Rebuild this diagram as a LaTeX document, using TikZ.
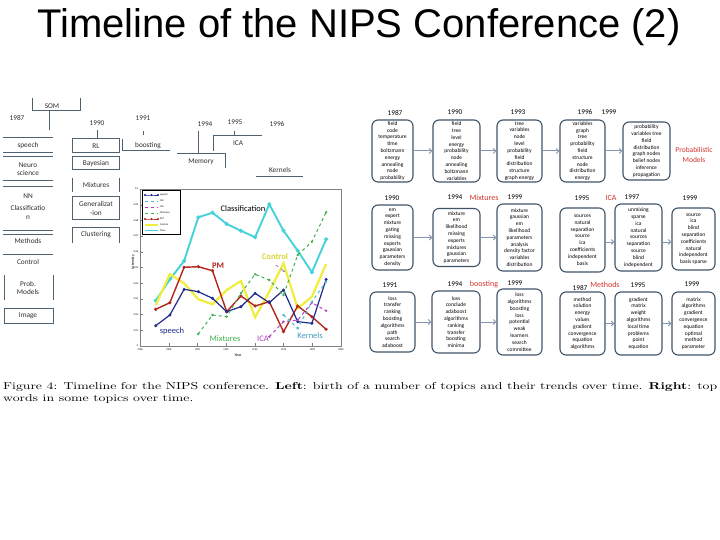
\documentclass[tikz,border=0pt]{standalone}
\usepackage{fontspec}
\usepackage{graphicx}
\newfontfamily\titlefont{Liberation Sans}
\newfontfamily\carlito{Carlito}
\usetikzlibrary{arrows.meta,positioning,calc}

\definecolor{treeline}{HTML}{4F6272}
\definecolor{treetext}{HTML}{2E2E2E}
\definecolor{boxline}{HTML}{3F5368}
\definecolor{arrowline}{HTML}{8395AC}
\definecolor{topicred}{HTML}{D4342C}
\definecolor{speechblue}{HTML}{1F2A8C}
\definecolor{classcyan}{HTML}{45D2D8}
\definecolor{pmred}{HTML}{B3261E}
\definecolor{controlyellow}{HTML}{F0EE3A}
\definecolor{mixgreen}{HTML}{3FB24A}
\definecolor{icamagenta}{HTML}{B040C0}
\definecolor{kernelcyan}{HTML}{4FB8DC}

\newcommand{\treefont}{\carlito\fontsize{7.3}{8.5}\selectfont}
\newcommand{\wordfont}{\carlito\fontsize{5.5}{6.8}\selectfont}
\newcommand{\tinyfont}{\carlito\fontsize{2.6}{3}\selectfont}

\begin{document}
\begin{tikzpicture}[x=1pt,y=-1pt]
    \tikzstyle{tree line} = [draw=treeline, line width=1pt]
    \tikzstyle{tree text} = [font=\treefont, text=treetext, align=center, inner sep=0pt]
    \tikzstyle{word box} = [draw=boxline, line width=1.1pt, rounded corners=6pt, align=center, font=\wordfont, inner sep=1pt]
    \tikzstyle{topic arrow} = [draw=arrowline, line width=1pt, -{Straight Barb[length=2.5pt,width=5pt]}]
    \tikzstyle{year} = [font=\treefont, text=black, inner sep=0pt]
    \tikzstyle{topic} = [font=\carlito\fontsize{8}{8}\selectfont, text=topicred, inner sep=0pt]
    \tikzstyle{curve label} = [font=\carlito\fontsize{8.5}{9}\selectfont, inner sep=0pt]

    \def\rowOneY{151}
    \def\rowTwoY{237.5}
    \def\rowThreeY{322}

    \useasboundingbox (0,0) rectangle (720,540);
    \fill[white] (0,0) rectangle (720,540);

    % title and caption
    \node (title) [anchor=base, font=\titlefont\fontsize{40}{40}\selectfont] at (359,38) {Timeline of the NIPS Conference (2)};
    \node (caption) [anchor=base west, inner sep=0pt] at (3,389.5) {\resizebox{714pt}{\height}{\fontsize{10}{12}\selectfont\begin{tabular}[t]{@{}l@{}}Figure 4: Timeline for the NIPS conference. \textbf{Left}: birth of a number of topics and their trends over time. \textbf{Right}: top\\words in some topics over time.\end{tabular}}};

    % left: birth of topics
    \node (som) [tree text] at (52,106) {SOM};
    \node (y87) [tree text] at (17,118) {1987};
    \node (speech) [tree text] at (28,146) {speech};
    \node (neuro) [tree text] at (28,169) {Neuro\\science};
    \node (nn) [tree text] at (28,196) {NN};
    \node (classif) [tree text] at (28,212.5) {Classificatio\\n};
    \node (methods) [tree text] at (28,241) {Methods};
    \node (control) [tree text] at (28,262) {Control};
    \node (prob) [tree text] at (28,288) {Prob.\\Models};
    \node (image) [tree text] at (28,316) {Image};

    \node (y90) [tree text] at (97,123) {1990};
    \node (rl) [tree text] at (96,146) {RL};
    \node (bayes) [tree text] at (96,163.5) {Bayesian};
    \node (mixt) [tree text] at (96,185) {Mixtures};
    \node (gener) [tree text] at (96,208.5) {Generalizat\\-ion};
    \node (clust) [tree text] at (96,235) {Clustering};

    \node (y91) [tree text] at (143,118) {1991};
    \node (boost) [tree text] at (148,146) {boosting};
    \node (y94) [tree text] at (205,124) {1994};
    \node (memory) [tree text] at (201,162) {Memory};
    \node (y95) [tree text] at (235,122) {1995};
    \node (icaL) [tree text] at (238,143) {ICA};
    \node (y96) [tree text] at (277,124) {1996};
    \node (kern) [tree text] at (280,170) {Kernels};

    \draw [tree line] (32,98) -- (32,111) -- (80,111) -- (80,98);
    \draw [tree line] (49,111) -- (49,130);
    \draw [tree line] (3,138) -- (53,138) (3,153) -- (53,153) (3,157) -- (53,157);
    \draw [tree line] (3,181) -- (53,181) (3,187) -- (53,187);
    \draw [tree line] (3,231) -- (53,231) (3,234.5) -- (53,234.5);
    \draw [tree line] (3,254) -- (53,254);
    \draw [tree line] (4,275) -- (4,300) (53,275) -- (53,300);
    \draw [tree line] (4,308) rectangle (53,323);
    \draw [tree line] (97,130) -- (97,139);
    \draw [tree line] (72,139) rectangle (119,153);
    \draw [tree line] (72,157) rectangle (119,170);
    \draw [tree line] (72,178) -- (72,192) (119,178) -- (119,192);
    \draw [tree line] (72,197) rectangle (119,220);
    \draw [tree line] (72,243) -- (72,228) -- (119,228) -- (119,243);
    \draw [tree line] (143,131) -- (143,135);
    \draw [tree line] (122,139) -- (122,151) -- (170,151);
    \draw [tree line] (198,131) -- (198,154);
    \draw [tree line] (177,154) -- (225,154) -- (225,168);
    \draw [tree line] (234,131) -- (234,136);
    \draw [tree line] (213,151) -- (213,136) -- (262,136);
    \draw [tree line] (256,177) -- (303,177);

    % left: trends chart
    \fill[white] (128,184) rectangle (356,358);
    \draw[gray, line width=0.4pt] (140,189) rectangle (341,346);
    \foreach \i [count=\k from 0] in {1986,1988,...,2000} {
        \draw[gray, line width=0.3pt] (140+28.7*\k,346) -- (140+28.7*\k,343);
        \node[font=\tinyfont, inner sep=0pt] at (140+28.7*\k,350) {\i};
    }
    \foreach \v [count=\k from 0] in {0,0.01,0.02,0.03,0.04,0.05,0.06,0.07,0.08,0.09,0.1} {
        \draw[gray, line width=0.3pt] (140,346-15.7*\k) -- (143,346-15.7*\k);
        \node[font=\tinyfont, inner sep=0pt, anchor=east] at (138.5,346-15.7*\k) {\v};
    }
    \node (yaxis) [rotate=90, font=\carlito\fontsize{4}{4}\selectfont, inner sep=0pt] at (133,262) {Intensity};
    \node (xaxis) [font=\carlito\fontsize{4}{4}\selectfont, inner sep=0pt] at (238,355) {Year};

    \draw[classcyan, line width=1.9pt, mark=*, mark size=0.9pt] plot coordinates {(155.7,300.7) (169.9,279.3) (184.1,261) (198.3,217.3) (212.5,212.7) (226.7,224) (240.9,230.7) (255.1,237.3) (269.3,204.3) (283.5,230.7) (297.7,250.7) (311.9,272.3) (326.1,239.3)};
    \draw[controlyellow, line width=2.2pt] plot coordinates {(155.7,305) (169.9,274) (184.1,283.3) (198.3,299.3) (212.5,304.3) (226.7,290) (240.9,281) (255.1,317.3) (269.3,291.7) (283.5,263.3) (297.7,308.3) (311.9,296.7) (326.1,264)};
    \draw[pmred, line width=1.4pt, mark=*, mark size=0.8pt] plot coordinates {(155.7,309.3) (169.9,302.7) (184.1,267.3) (198.3,266.7) (212.5,270.7) (226.7,311.7) (240.9,296) (255.1,306) (269.3,301.7) (283.5,331.7) (297.7,306) (311.9,316.7) (326.1,329.3)};
    \draw[speechblue, line width=1.2pt, mark=*, mark size=0.8pt] plot coordinates {(155.7,325.7) (169.9,315) (184.1,289.3) (198.3,291.7) (212.5,298.3) (226.7,311.7) (240.9,306.7) (255.1,293.3) (269.3,302.7) (283.5,290) (297.7,321.7) (311.9,323.3) (326.1,279.3)};
    \draw[mixgreen, line width=1pt, dashed, mark=*, mark size=0.6pt, mark options={solid}] plot coordinates {(198.3,334) (212.5,315) (226.7,316.7) (240.9,293.3) (255.1,274.3) (269.3,280) (283.5,295) (297.7,255) (311.9,241.7) (326.1,212.3)};
    \draw[icamagenta, line width=1pt, dashed, mark=*, mark size=0.6pt, mark options={solid}] plot coordinates {(269.3,336.7) (283.5,321.7) (297.7,320) (311.9,302.7) (326.1,310.7)};
    \draw[kernelcyan, line width=1pt, dashed, mark=*, mark size=0.6pt, mark options={solid}] plot coordinates {(283.5,315) (297.7,328.3) (311.9,301.7) (326.1,281.7)};

    \coordinate (ctlA) at (276,265);
    \coordinate (ctlB) at (285,272);
    \draw[speechblue!70, line width=0.6pt, dashed, -{Stealth[length=2.5pt]}] (ctlA) -- (ctlB);

    \node (lblClass) [curve label] at (243,209) {Classification};
    \node (lblPM) [curve label, text=pmred, font=\carlito\bfseries\fontsize{8.5}{9}\selectfont] at (218,266) {PM};
    \node (lblCtrl) [curve label, text=controlyellow!90!black, font=\carlito\bfseries\fontsize{8.5}{9}\selectfont] at (275,257) {Control};
    \node (lblSpeech) [curve label, text=speechblue] at (172,331) {speech};
    \node (lblMix) [curve label, text=mixgreen] at (225,339) {Mixtures};
    \node (lblICA) [curve label, text=icamagenta] at (263,339) {ICA};
    \node (lblKern) [curve label, text=kernelcyan!85!black] at (310,336) {Kernels};

    % legend
    \draw[black, line width=0.3pt, fill=white] (142,190) rectangle (180,234);
    \draw[speechblue, line width=0.7pt, mark=*, mark size=0.6pt] plot coordinates {(145,195) (151.5,195) (158,195)};
    \draw[kernelcyan, line width=0.7pt, dashed] (145,201) -- (158,201);
    \draw[icamagenta, line width=0.7pt, dashed] (145,207) -- (158,207);
    \draw[mixgreen, line width=0.7pt, dashed] (145,213) -- (158,213);
    \draw[pmred, line width=0.7pt, mark=*, mark size=0.6pt] plot coordinates {(145,219) (151.5,219) (158,219)};
    \draw[controlyellow, line width=1.5pt] (145,225) -- (158,225);
    \draw[classcyan, line width=1pt] (145,231) -- (158,231);
    \node (legSpeech) [font=\tinyfont, anchor=west, inner sep=0pt] at (160,195) {speech};
    \node (legNN) [font=\tinyfont, anchor=west, inner sep=0pt] at (160,201) {NN};
    \node (legICA) [font=\tinyfont, anchor=west, inner sep=0pt] at (160,207) {ICA};
    \node (legMix) [font=\tinyfont, anchor=west, inner sep=0pt] at (160,213) {Mixtures};
    \node (legPM) [font=\tinyfont, anchor=west, inner sep=0pt] at (160,219) {PM};
    \node (legCtrl) [font=\tinyfont, anchor=west, inner sep=0pt] at (160,225) {Control};
    \node (legClass) [font=\tinyfont, anchor=west, inner sep=0pt] at (160,231) {Class.};

    % right: probabilistic models
    \node (r1b1) [word box, minimum width=41, minimum height=62] at (392.5,\rowOneY) {field\\code\\temperature\\time\\boltzmann\\energy\\annealing\\node\\probability};
    \node (r1b2) [word box, minimum width=47, minimum height=62] at (456.5,\rowOneY) {field\\tree\\level\\energy\\probability\\node\\annealing\\boltzmann\\variables};
    \node (r1b3) [word box, minimum width=45, minimum height=62] at (519.5,\rowOneY) {tree\\variables\\node\\level\\probability\\field\\distribution\\structure\\graph energy};
    \node (r1b4) [word box, minimum width=45, minimum height=62] at (582.5,\rowOneY) {variables\\graph\\tree\\probability\\field\\structure\\node\\distribution\\energy};
    \node (r1b5) [word box, minimum width=47, minimum height=58] at (646.5,\rowOneY) {probability\\variables tree\\field\\distribution\\graph nodes\\belief nodes\\inference\\propagation};
    \path [topic arrow] (r1b1) -- (r1b2);
    \path [topic arrow] (r1b2) -- (r1b3);
    \path [topic arrow] (r1b3) -- (r1b4);
    \path [topic arrow] (r1b4) -- (r1b5);
    \node (r1y1) [year] at (395,113) {1987};
    \node (r1y2) [year] at (455,112) {1990};
    \node (r1y3) [year] at (518,112) {1993};
    \node (r1y4) [year] at (585,112) {1996};
    \node (r1y5) [year] at (609,112) {1999};
    \node (probModels) [topic, align=center, font=\carlito\fontsize{7.5}{9.5}\selectfont] at (694,155) {Probabilistic\\Models};

    % right: mixtures and ICA
    \node (r2b1) [word box, minimum width=41, minimum height=65] at (392.5,\rowTwoY) {em\\expert\\mixture\\gating\\missing\\experts\\gaussian\\parameters\\density};
    \node (r2b2) [word box, minimum width=47, minimum height=58] at (456.5,\rowTwoY) {mixture\\em\\likelihood\\missing\\experts\\mixtures\\gaussian\\parameters};
    \node (r2b3) [word box, minimum width=45, minimum height=67] at (519.5,\rowTwoY) {mixture\\gaussian\\em\\likelihood\\parameters\\analysis\\density factor\\variables\\distribution};
    \node (r2b4) [word box, minimum width=45, minimum height=64] at (582.5,240) {sources\\natural\\separation\\source\\ica\\coefficients\\independent\\basis};
    \node (r2b5) [word box, minimum width=47, minimum height=67] at (638.5,\rowTwoY) {unmixing\\sparse\\ica\\natural\\sources\\separation\\source\\blind\\independent};
    \node (r2b6) [word box, minimum width=43, minimum height=62] at (693.5,239) {source\\ica\\blind\\separation\\coefficients\\natural\\independent\\basis sparse};
    \path [topic arrow] (r2b1) -- (r2b2);
    \path [topic arrow] (r2b2) -- (r2b3);
    \path [topic arrow] (r2b4.east |- 0,242) -- (r2b5.west |- 0,242);
    \path [topic arrow] (r2b5.east |- 0,242) -- (r2b6.west |- 0,242);
    \node (r2y1) [year] at (392,198) {1990};
    \node (r2y2) [year] at (455,197) {1994};
    \node (mixtures) [topic] at (484,198) {Mixtures};
    \node (r2y3) [year] at (515,197) {1999};
    \node (r2y4) [year] at (582,198) {1995};
    \node (icaR) [topic] at (611,198) {ICA};
    \node (r2y5) [year] at (632,197) {1997};
    \node (r2y6) [year] at (690,198) {1999};

    % right: boosting and methods
    \node (r3b1) [word box, minimum width=45, minimum height=60] at (392.5,\rowThreeY) {loss\\transfer\\ranking\\boosting\\algorithms\\path\\search\\adaboost};
    \node (r3b2) [word box, minimum width=48, minimum height=62] at (456,\rowThreeY) {loss\\conclude\\adaboost\\algorithms\\ranking\\transfer\\boosting\\minima};
    \node (r3b3) [word box, minimum width=45, minimum height=66] at (519.5,\rowThreeY) {loss\\algorithms\\boosting\\loss\\potential\\weak\\learners\\search\\committee};
    \node (r3b4) [word box, minimum width=45, minimum height=63] at (582.5,323.5) {method\\solution\\energy\\values\\gradient\\convergence\\equation\\algorithms};
    \node (r3b5) [word box, minimum width=47, minimum height=63] at (638.5,323.5) {gradient\\matrix\\weight\\algorithms\\local time\\problems\\point\\equation};
    \node (r3b6) [word box, minimum width=43, minimum height=63] at (693.5,323.5) {matrix\\algorithms\\gradient\\convergence\\equation\\optimal\\method\\parameter};
    \path [topic arrow] (r3b1) -- (r3b2);
    \path [topic arrow] (r3b2) -- (r3b3);
    \path [topic arrow] (r3b4) -- (r3b5);
    \path [topic arrow] (r3b5) -- (r3b6);
    \node (r3y1) [year] at (390,285) {1991};
    \node (r3y2) [year] at (455,284) {1994};
    \node (boosting) [topic] at (484,284) {boosting};
    \node (r3y3) [year] at (515,283) {1999};
    \node (r3y4) [year] at (580,288) {1987};
    \node (methodsR) [topic] at (605,285) {Methods};
    \node (r3y5) [year] at (638,285) {1995};
    \node (r3y6) [year] at (692,284) {1999};
\end{tikzpicture}
\end{document}
